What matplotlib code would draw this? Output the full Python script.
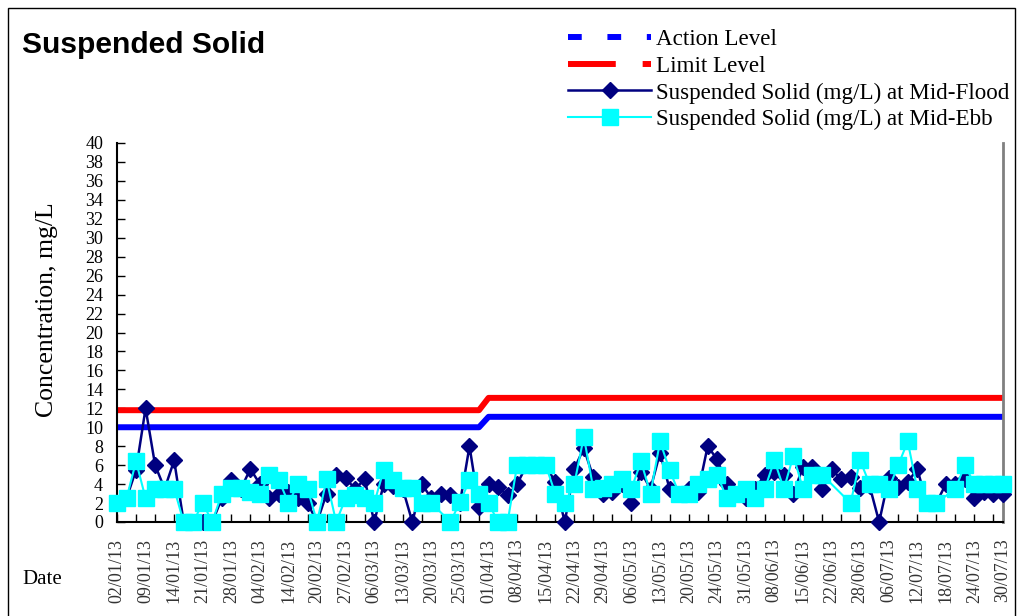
import numpy as np
import matplotlib.pyplot as plt
from matplotlib.lines import Line2D
from matplotlib.patches import Rectangle

# sampling occasions (category axis), labels shown every 3rd sample
n_samples = 94
tick_labels = [
    "02/01/13", "09/01/13", "14/01/13", "21/01/13", "28/01/13", "04/02/13",
    "14/02/13", "20/02/13", "27/02/13", "06/03/13", "13/03/13", "20/03/13",
    "25/03/13", "01/04/13", "08/04/13", "15/04/13", "22/04/13", "29/04/13",
    "06/05/13", "13/05/13", "20/05/13", "24/05/13", "31/05/13", "08/06/13",
    "15/06/13", "22/06/13", "28/06/13", "06/07/13", "12/07/13", "18/07/13",
    "24/07/13", "30/07/13",
]

# Action / Limit levels (change from 01/04/13)
action_level = [10.0] * 39 + [11.1] * 55
limit_level = [11.8] * 39 + [13.1] * 55

mid_flood = [
    2.0, 2.5, 5.5, 12.0, 6.0, 3.5, 6.5, 0.0, 0.0, 0.0,
    0.0, 2.5, 4.4, 3.5, 5.6, 4.0, 2.5, 3.0, 3.2, 2.5,
    2.0, 0.0, 3.0, 5.0, 4.6, 3.5, 4.5, 0.0, 4.0, 3.8,
    3.5, 0.0, 4.0, 2.5, 3.0, 2.8, 2.0, 8.0, 1.6, 4.0,
    3.7, 2.8, 4.0, 6.0, 6.0, 6.0, 4.2, 0.0, 5.6, 7.8,
    4.7, 3.0, 3.2, 4.0, 2.0, 5.3, 3.5, 7.3, 3.5, 3.0,
    3.5, 3.2, 8.0, 6.6, 4.0, 3.0, 2.5, 3.5, 5.0, 5.3,
    5.0, 3.0, 5.8, 5.8, 3.5, 5.6, 4.5, 4.7, 3.6, 3.8,
    0.0, 4.6, 3.7, 4.2, 5.6, 2.0, 2.0, 4.0, 4.0, 4.5,
    2.5, 3.2, 3.0, 3.0,
]

mid_ebb = [
    2.0, 2.5, 6.4, 2.5, 3.5, 3.5, 3.5, 0.0, 0.0, 2.0,
    0.0, 3.0, 3.6, 3.6, 3.2, 3.0, 5.0, 4.4, 2.0, 4.0,
    3.5, 0.0, 4.5, 0.0, 2.5, 2.8, 2.5, 2.0, 5.5, 4.4,
    3.6, 3.6, 2.0, 2.0, np.nan, 0.0, 2.1, 4.4, 3.0, 2.0,
    0.0, 0.0, 6.0, 6.0, 6.0, 6.0, 3.0, 2.0, 4.0, 9.0,
    3.5, 3.6, 4.0, 4.5, 3.5, 6.4, 3.0, 8.5, 5.5, 3.0,
    3.0, 4.0, 4.5, 5.0, 2.5, 3.0, 3.5, 2.5, 3.5, 6.5,
    3.5, 7.0, 3.5, 5.0, 5.0, np.nan, np.nan, 2.0, 6.5, 4.0,
    4.0, 3.5, 6.0, 8.5, 3.5, 2.0, 2.0, np.nan, 3.5, 6.0,
    4.0, 4.0, 4.0, 4.0,
]

serif = "Liberation Serif"

x = np.arange(n_samples)
flood = np.array(mid_flood)
ebb = np.array(mid_ebb)

fig = plt.figure(figsize=(10.23, 6.16), dpi=100)
ax = fig.add_axes([117 / 1023, 94 / 616, 886 / 1023, 379 / 616])

# Plot series (Excel order: action, limit, flood, ebb)
ax.plot(x, action_level, color="#0000FF", lw=4.3, solid_capstyle="butt", zorder=2)
ax.plot(x, limit_level, color="#FF0000", lw=4.3, solid_capstyle="butt", zorder=2)

m = ~np.isnan(flood)
ax.plot(x[m], flood[m], color="#000080", lw=1.8, marker="D", ms=8,
        mec="#000080", mfc="#000080", clip_on=False, zorder=3)
m = ~np.isnan(ebb)
ax.plot(x[m], ebb[m], color="#00FFFF", lw=1.5, marker="s", ms=12,
        mec="#00FFFF", mfc="#00FFFF", clip_on=False, zorder=4)

ax.set_xlim(0, n_samples - 1)
ax.set_ylim(0, 40)

# Axes styling
ax.spines["top"].set_visible(False)
ax.spines["right"].set_color("#808080")
ax.spines["right"].set_linewidth(2)
ax.spines["left"].set_linewidth(1.5)
ax.spines["bottom"].set_linewidth(1.5)

ax.set_yticks(range(0, 41, 2))
ax.tick_params(axis="y", direction="in", length=6, width=1, pad=10,
               labelsize=13)
for lbl in ax.get_yticklabels():
    lbl.set_family(serif)

ax.xaxis.remove_overlapping_locs = False
ax.set_xticks(range(0, n_samples, 3))
ax.set_xticklabels(tick_labels, rotation=90, family=serif, fontsize=13,
                   color="#333333")
ax.tick_params(axis="x", which="major", length=0, pad=12)
ax.set_xticks(range(0, n_samples, 2), minor=True)
ax.tick_params(axis="x", which="minor", direction="in", length=6, width=1)

ax.set_ylabel("Concentration, mg/L", family=serif, fontsize=18.5)
ax.yaxis.set_label_coords(-0.067, 0.56)

fig.text(22 / 1023, 1 - 579 / 616, "Date", family=serif, fontsize=15,
         va="center", ha="left")
fig.text(22 / 1023, 1 - 45 / 616, "Suspended Solid", family="Liberation Sans",
         fontsize=21.6, fontweight="bold", va="center", ha="left")

# Legend
handles = [
    Line2D([], [], color="#0000FF", lw=4.3, linestyle=(0, (2.3, 4.3))),
    Line2D([], [], color="#FF0000", lw=4.3, linestyle=(0, (8, 4.5))),
    Line2D([], [], color="#000080", lw=1.8, marker="D", ms=8),
    Line2D([], [], color="#00FFFF", lw=1.5, marker="s", ms=12),
]
labels = [
    "Action Level",
    "Limit Level",
    "Suspended Solid (mg/L) at Mid-Flood",
    "Suspended Solid (mg/L) at Mid-Ebb",
]
fig.legend(handles, labels, loc="upper left",
           bbox_to_anchor=(568 / 1023, 1 - 29 / 616), frameon=False,
           prop={"family": serif, "size": 16.6}, handlelength=3.6,
           handletextpad=0.2, labelspacing=0.24, numpoints=1,
           borderaxespad=0, borderpad=0)

# chart outer border
fig.patches.append(Rectangle((8 / 1023, -0.05), 1007 / 1023, 1.05 - 8 / 616,
                             transform=fig.transFigure, fill=False,
                             edgecolor="black", lw=1))

fig.savefig("out.png", dpi=100)
